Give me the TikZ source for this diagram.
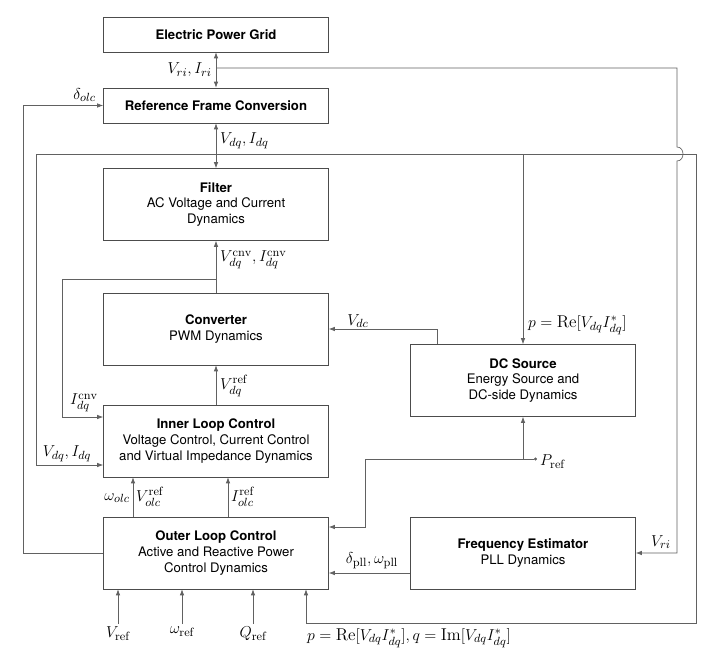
\documentclass[tikz,border=0pt]{standalone}
\usepackage{amsmath}
\usepackage{fontspec}
\newfontfamily\helv{TeX Gyre Heros}
\usepackage{tikz}
\usetikzlibrary{positioning,arrows.meta}

\tikzset{
    blk/.style={draw=black!70, line width=0.6pt, minimum width=171pt, minimum height=54.7pt,
        align=center, inner sep=1pt, font=\helv\fontsize{10}{12}\selectfont},
    slim/.style={blk, minimum height=26.6pt},
    sig/.style={draw=black!62, line width=0.5pt, >={Latex[length=4.5pt,width=3.4pt]}},
    lbl/.style={inner sep=1.5pt, font=\fontsize{13}{15}\selectfont}
}

\begin{document}
\begin{tikzpicture}[x=0.76pt, y=-0.76pt]
    \useasboundingbox (0,0) rectangle (714,650);

    % blocks
    \node[slim] (grid) at (216,34.5) {\textbf{Electric Power Grid}};
    \node[slim] (rfc) at (216,105.5) {\textbf{Reference Frame Conversion}};
    \node[blk] (filt) at (216,204.5) {\textbf{Filter}\\AC Voltage and Current\\Dynamics};
    \node[blk] (conv) at (216,329) {\textbf{Converter}\\PWM Dynamics};
    \node[blk] (inner) at (216,441) {\textbf{Inner Loop Control}\\Voltage Control, Current Control\\and Virtual Impedance Dynamics};
    \node[blk] (outer) at (216,553) {\textbf{Outer Loop Control}\\Active and Reactive Power\\Control Dynamics};
    \node[blk] (dcs) at (523,380.5) {\textbf{DC Source}\\Energy Source and\\DC-side Dynamics};
    \node[blk] (fest) at (523,553) {\textbf{Frequency Estimator}\\PLL Dynamics};

    \coordinate (tapri) at (216,68);
    \coordinate (busdq) at (216,154);
    \coordinate (tapcnv) at (216,279);

    % grid side
    \draw[sig,<->] (grid) -- (rfc);
    \node[lbl, anchor=east] (lri) at (214,70) {$V_{ri}, I_{ri}$};
    \draw[sig,->] (tapri) -- (677,68) -- (677,147) .. controls (685,147) and (685,161) .. (677,161)
        -- (677,553) -- (fest.east);
    \node[lbl, anchor=south east] (lvri) at (673,551) {$V_{ri}$};
    \draw[sig,<->] (rfc) -- (filt);
    \node[lbl, anchor=west] (ldq) at (218,141) {$V_{dq}, I_{dq}$};
    \draw[sig,->] (outer.west) -- (23,553) |- (rfc.west);
    \node[lbl, anchor=east] (lolc) at (98,95) {$\delta_{olc}$};

    % dq bus
    \draw[sig] (36,154) -- (696,154);
    \draw[sig,->] (36,154) -- (36,465) -- (inner.west |- 0,465);
    \node[lbl] (ldqin) at (67,454) {$V_{dq}, I_{dq}$};
    \draw[sig,->] (dcs.north |- busdq) -- (dcs.north);
    \node[lbl, anchor=west] (lp) at (526,325) {$p = \mathrm{Re}[V_{dq} I^{*}_{dq}]$};
    \draw[sig,->] (696,154) -- (696,623) -- (306,623) -- (outer.south -| 306,0);
    \node[lbl, anchor=north west] (lpq) at (305,626) {$p = \mathrm{Re}[V_{dq} I^{*}_{dq}], q = \mathrm{Im}[V_{dq} I^{*}_{dq}]$};

    % converter path
    \draw[sig,->] (conv) -- (filt);
    \node[lbl, anchor=west] (lcnv) at (218,260) {$V^{\mathrm{cnv}}_{dq}, I^{\mathrm{cnv}}_{dq}$};
    \draw[sig,->] (tapcnv) -| (62,417) -- (inner.west |- 0,417);
    \node[lbl] (licnv) at (84,403) {$I^{\mathrm{cnv}}_{dq}$};
    \draw[sig,->] (dcs.north -| 437,0) |- (conv.east);
    \node[lbl] (ldc) at (358,321) {$V_{dc}$};
    \draw[sig,->] (inner) -- (conv);
    \node[lbl, anchor=west] (lvref) at (218,386) {$V^{\mathrm{ref}}_{dq}$};

    % outer to inner
    \foreach \x in {133,228}
        \draw[sig,->] (outer.north -| \x,0) -- (inner.south -| \x,0);
    \node[lbl, anchor=east] (lw) at (132,498) {$\omega_{olc}$};
    \node[lbl, anchor=west] (lvo) at (134,497) {$V^{\mathrm{ref}}_{olc}$};
    \node[lbl, anchor=west] (lio) at (229,497) {$I^{\mathrm{ref}}_{olc}$};

    % power reference
    \node[lbl, anchor=west] (pref) at (538,462) {$P_{\mathrm{ref}}$};
    \draw[sig,{Circle[length=2.2pt]}->] (537,459) -| (365,527) -- (outer.east |- 0,527);
    \draw[sig,->] (dcs.south |- 0,459) -- (dcs.south);

    % pll
    \draw[sig,->] (fest.west |- 0,573) -- (outer.east |- 0,573);
    \node[lbl] (lpll) at (372,561) {$\delta_{\mathrm{pll}}, \omega_{\mathrm{pll}}$};

    % set points
    \foreach \x/\t in {118/V_{\mathrm{ref}}, 182/\omega_{\mathrm{ref}}, 253/Q_{\mathrm{ref}}}{
        \node[lbl, anchor=north] (in\x) at (\x,624) {$\t$};
        \draw[sig,->] (in\x.north) -- (outer.south -| \x,0);
    };
\end{tikzpicture}
\end{document}
